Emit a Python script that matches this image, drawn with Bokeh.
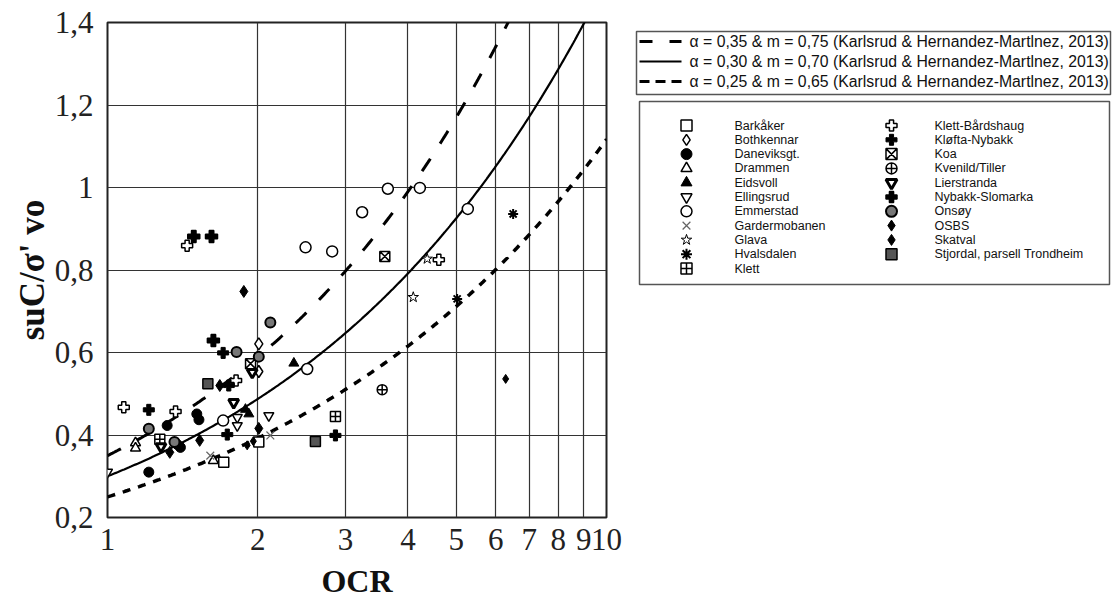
import numpy as np
from bokeh.plotting import figure
from bokeh.models import FixedTicker, CustomJSTickFormatter, Range1d
from bokeh.core.properties import value
from bokeh.layouts import row
from bokeh.embed import file_html
from bokeh.resources import INLINE

# ---------------- data ----------------
# Model curves su/sigma'vo = alpha * OCR^m (Karlsrud & Hernandez-Martinez, 2013)
curve_alpha = [0.35, 0.30, 0.25]
curve_m = [0.75, 0.70, 0.65]
curve_labels = [
    "\u03b1 = 0,35 & m = 0,75 (Karlsrud & Hernandez-Martlnez, 2013)",
    "\u03b1 = 0,30 & m = 0,70 (Karlsrud & Hernandez-Martlnez, 2013)",
    "\u03b1 = 0,25 & m = 0,65 (Karlsrud & Hernandez-Martlnez, 2013)",
]

site_names = ["Barkåker", "Bothkennar", "Daneviksgt.", "Drammen", "Eidsvoll", "Ellingsrud",
              "Emmerstad", "Gardermobanen", "Glava", "Hvalsdalen", "Klett",
              "Klett-Bårdshaug", "Kløfta-Nybakk", "Koa", "Kvenild/Tiller", "Lierstranda",
              "Nybakk-Slomarka", "Onsøy", "OSBS", "Skatval", "Stjordal, parsell Trondheim"]

barkaker_ocr = [2.01, 1.71]
barkaker_su = [0.383, 0.334]
bothkennar_ocr = [2.01, 2.01]
bothkennar_su = [0.621, 0.554]
daneviksgt_ocr = [1.51, 1.525, 1.317, 1.40, 1.38, 1.21]
daneviksgt_su = [0.451, 0.437, 0.423, 0.370, 0.377, 0.310]
drammen_ocr = [1.138, 1.138, 1.63]
drammen_su = [0.381, 0.368, 0.338]
eidsvoll_ocr = [2.363, 1.92, 1.89]
eidsvoll_su = [0.574, 0.451, 0.462]
ellingsrud_ocr = [1.0, 1.82, 1.82, 2.105]
ellingsrud_su = [0.310, 0.443, 0.423, 0.447]
emmerstad_ocr = [3.646, 4.226, 3.238, 2.494, 2.82, 5.273, 2.513, 1.705]
emmerstad_su = [0.997, 0.999, 0.940, 0.855, 0.845, 0.948, 0.560, 0.435]
gardermobanen_ocr = [2.12, 1.607]
gardermobanen_su = [0.399, 0.350]
glava_ocr = [4.372, 4.10]
glava_su = [0.827, 0.734]
hvalsdalen_ocr = [6.50, 5.02]
hvalsdalen_su = [0.936, 0.730]
klett_ocr = [1.273, 2.863]
klett_su = [0.390, 0.445]
klett_bardshaug_ocr = [1.078, 1.369, 1.444, 4.613, 1.81]
klett_bardshaug_su = [0.467, 0.457, 0.859, 0.825, 0.532]
klofta_nybakk_ocr = [1.21, 1.705, 1.738, 2.863, 1.75]
klofta_nybakk_su = [0.461, 0.599, 0.401, 0.399, 0.520]
koa_ocr = [3.595, 1.935]
koa_su = [0.833, 0.573]
kvenild_ocr = [3.552]
kvenild_su = [0.510]
lierstranda_ocr = [1.95, 1.79, 1.28]
lierstranda_su = [0.552, 0.479, 0.372]
nybakk_slomarka_ocr = [1.489, 1.616, 1.63]
nybakk_slomarka_su = [0.881, 0.881, 0.629]
onsoy_ocr = [2.12, 1.814, 1.21, 1.362, 2.01]
onsoy_su = [0.673, 0.601, 0.415, 0.383, 0.590]
osbs_ocr = [1.905, 1.96, 6.28]
osbs_su = [0.375, 0.385, 0.536]
skatval_ocr = [1.876, 1.679, 1.53, 2.01, 1.333]
skatval_su = [0.748, 0.520, 0.387, 0.416, 0.358]
stjordal_ocr = [1.589, 2.61]
stjordal_su = [0.524, 0.384]

y_ticks = [0.2, 0.4, 0.6, 0.8, 1.0, 1.2, 1.4]
x_ticks = [1, 2, 3, 4, 5, 6, 7, 8, 9, 10]

site_data = [
    (barkaker_ocr, barkaker_su), (bothkennar_ocr, bothkennar_su),
    (daneviksgt_ocr, daneviksgt_su), (drammen_ocr, drammen_su),
    (eidsvoll_ocr, eidsvoll_su), (ellingsrud_ocr, ellingsrud_su),
    (emmerstad_ocr, emmerstad_su), (gardermobanen_ocr, gardermobanen_su),
    (glava_ocr, glava_su), (hvalsdalen_ocr, hvalsdalen_su), (klett_ocr, klett_su),
    (klett_bardshaug_ocr, klett_bardshaug_su), (klofta_nybakk_ocr, klofta_nybakk_su),
    (koa_ocr, koa_su), (kvenild_ocr, kvenild_su), (lierstranda_ocr, lierstranda_su),
    (nybakk_slomarka_ocr, nybakk_slomarka_su), (onsoy_ocr, onsoy_su),
    (osbs_ocr, osbs_su), (skatval_ocr, skatval_su), (stjordal_ocr, stjordal_su),
]

# ---------------- styles ----------------
K = "black"
site_styles = [
    dict(marker="square", fill_color="white", line_color=K, line_width=1.5, size=10),
    dict(marker="diamond", fill_color="white", line_color=K, line_width=1.5, size=12),
    dict(marker="circle", fill_color=K, line_color=K, line_width=1, size=10),
    dict(marker="triangle", fill_color="white", line_color=K, line_width=1.5, size=10),
    dict(marker="triangle", fill_color=K, line_color=K, line_width=1, size=10),
    dict(marker="inverted_triangle", fill_color="white", line_color=K, line_width=1.5, size=10),
    dict(marker="circle", fill_color="white", line_color=K, line_width=1.5, size=11),
    dict(marker="x", fill_color=None, line_color="#666666", line_width=1.2, size=11),
    dict(marker="star", fill_color="white", line_color=K, line_width=1, size=11),
    dict(marker="asterisk", fill_color=None, line_color=K, line_width=2, size=10),
    dict(marker="square_cross", fill_color="white", line_color=K, line_width=1.5, size=10),
    dict(marker="plus", fill_color="white", line_color=K, line_width=1.5, size=11),
    dict(marker="plus", fill_color=K, line_color=K, line_width=1, size=11),
    dict(marker="square_x", fill_color="white", line_color=K, line_width=1.5, size=10),
    dict(marker="circle_cross", fill_color="white", line_color=K, line_width=1.5, size=10),
    dict(marker="inverted_triangle", fill_color="white", line_color=K, line_width=3, size=10),
    dict(marker="plus", fill_color=K, line_color=K, line_width=1.5, size=12),
    dict(marker="circle", fill_color="#777777", line_color=K, line_width=2, size=10),
    dict(marker="diamond", fill_color=K, line_color=K, line_width=1, size=9),
    dict(marker="diamond", fill_color=K, line_color=K, line_width=1, size=12),
    dict(marker="square", fill_color="#555555", line_color=K, line_width=1.5, size=10),
]

curve_styles = [
    dict(line_dash="15 18", line_width=3),
    dict(line_dash="solid", line_width=2.2),
    dict(line_dash="8 8", line_width=3.5),
]
legend_dashes = ["13 17", "solid", "10 6"]

SERIF = "Liberation Serif"
SANS = "Liberation Sans"

# ---------------- main plot ----------------
p = figure(width=625, height=604, x_axis_type="log",
           x_range=Range1d(1, 10), y_range=Range1d(0.2, 1.4),
           output_backend="svg", toolbar_location=None,
           min_border_left=107, min_border_right=19, min_border_top=22, min_border_bottom=87)
p.background_fill_color = "white"
p.outline_line_color = "#222222"
p.outline_line_width = 2

p.xaxis.ticker = FixedTicker(ticks=x_ticks)
p.xaxis.formatter = CustomJSTickFormatter(code="return Math.round(tick).toString();")
p.yaxis.ticker = FixedTicker(ticks=y_ticks)
p.yaxis.formatter = CustomJSTickFormatter(
    code="const v = Math.round(tick*10)/10; return v.toString().replace('.', ',');")
for ax in (p.xaxis, p.yaxis):
    ax.axis_line_color = None
    ax.major_tick_line_color = None
    ax.minor_tick_line_color = None
    ax.major_label_text_font = SERIF
    ax.major_label_text_font_size = "31px"
    ax.major_label_text_color = "#222222"
    ax.axis_label_text_font = SERIF
    ax.axis_label_text_font_style = "bold"
    ax.axis_label_text_color = "#111111"
p.xaxis.axis_label_text_font_size = "32px"
p.yaxis.axis_label_text_font_size = "35px"
p.xaxis.axis_label = "OCR"
p.yaxis.axis_label = "suC/\u03c3' vo"
p.xaxis.major_label_standoff = 5
p.yaxis.major_label_standoff = 8
p.xaxis.axis_label_standoff = 10
p.yaxis.axis_label_standoff = 0

p.xgrid.ticker = FixedTicker(ticks=x_ticks[1:-1])
p.ygrid.ticker = FixedTicker(ticks=y_ticks[1:-1])
p.grid.grid_line_color = "#333333"
p.grid.grid_line_width = 1.2

ocr_curve = np.logspace(0, 1, 300)
for a, mm, st in zip(curve_alpha, curve_m, curve_styles):
    p.line(ocr_curve, a * ocr_curve ** mm, line_color="black", **st)

for (xs, ys), st in zip(site_data, site_styles):
    p.scatter(xs, ys, **st)

# ---------------- legend panel (page-pixel coordinates) ----------------
p2 = figure(width=490, height=604, x_range=Range1d(625, 1115), y_range=Range1d(517, 22),
            output_backend="svg", toolbar_location=None,
            min_border_left=0, min_border_right=0, min_border_top=22, min_border_bottom=87,
            x_axis_location=None, y_axis_location=None)
p2.outline_line_color = None
p2.grid.visible = False

# box 1: model curves
p2.quad(left=[636], right=[1110], top=[31], bottom=[94], fill_color=None,
        line_color="#555555", line_width=1.5)
for i, (lab, dash) in enumerate(zip(curve_labels, legend_dashes)):
    yy = 41 + 20 * i
    p2.line([639, 681], [yy, yy], line_color="black", line_dash=dash,
            line_width=3 if dash != "solid" else 2)
    p2.text([689], [yy], text=[lab], text_font=value(SANS), text_font_size="15.8px",
            text_baseline="middle", text_align="left", text_color="#111111")

# box 2: sites
p2.quad(left=[639], right=[1109], top=[101], bottom=[284], fill_color=None,
        line_color="#555555", line_width=1.5)
for i, (name, st) in enumerate(zip(site_names, site_styles)):
    col, r = divmod(i, 11)
    mx = 686 + 205 * col
    tx = 734 + 200 * col
    yy = 125 + 14.3 * r
    st2 = dict(st)
    st2["size"] = 11
    p2.scatter([mx], [yy], **st2)
    p2.text([tx], [yy], text=[name], text_font=value(SANS), text_font_size="12.5px",
            text_baseline="middle", text_align="left", text_color="#111111")

layout = row(p, p2)
open("out.html", "w").write(file_html(layout, INLINE))
